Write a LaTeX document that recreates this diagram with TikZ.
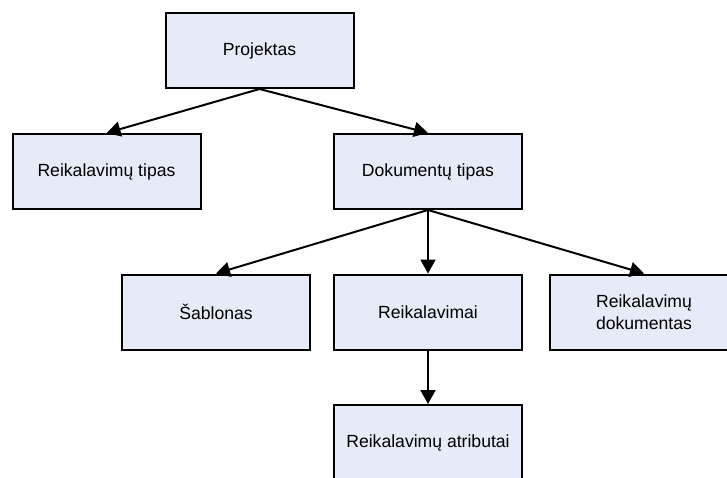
\documentclass[tikz,border=0pt]{standalone}
\usepackage{fontspec}
\setmainfont{Liberation Sans}
\usetikzlibrary{arrows.meta}
\definecolor{boxfill}{RGB}{230,236,247}
\begin{document}
\begin{tikzpicture}[x=1pt,y=-1pt,
  entity/.style={draw=black, line width=2pt, fill=boxfill,
    minimum width=188pt, minimum height=75pt, inner sep=0pt,
    align=center, font=\fontsize{17.6}{21.5}\selectfont},
  link/.style={line width=2pt, -{Triangle[length=14pt,width=15pt]}}]
  \clip (0,0) rectangle (727,477);
  % top level
  \node[entity] (proj)  at (259.5, 50.5) {Projektas};
  % second level
  \node[entity] (rtip)  at (106.5,171.5) {Reikalavimų tipas};
  \node[entity] (dtip)  at (428,171.5)   {Dokumentų tipas};
  % third level
  \node[entity] (sabl)  at (216,312)     {Šablonas};
  \node[entity] (reik)  at (428,312)     {Reikalavimai};
  \node[entity] (rdok)  at (644,312)     {Reikalavimų\\dokumentas};
  % fourth level
  \node[entity] (ratr)  at (428,442.5)   {Reikalavimų atributai};
  % connectors
  \draw[link] (proj.south) -- (rtip.north);
  \draw[link] (proj.south) -- (dtip.north);
  \draw[link] (dtip.south) -- (sabl.north);
  \draw[link] (dtip.south) -- (reik.north);
  \draw[link] (dtip.south) -- (rdok.north);
  \draw[link] (reik.south) -- (ratr.north);
\end{tikzpicture}
\end{document}
